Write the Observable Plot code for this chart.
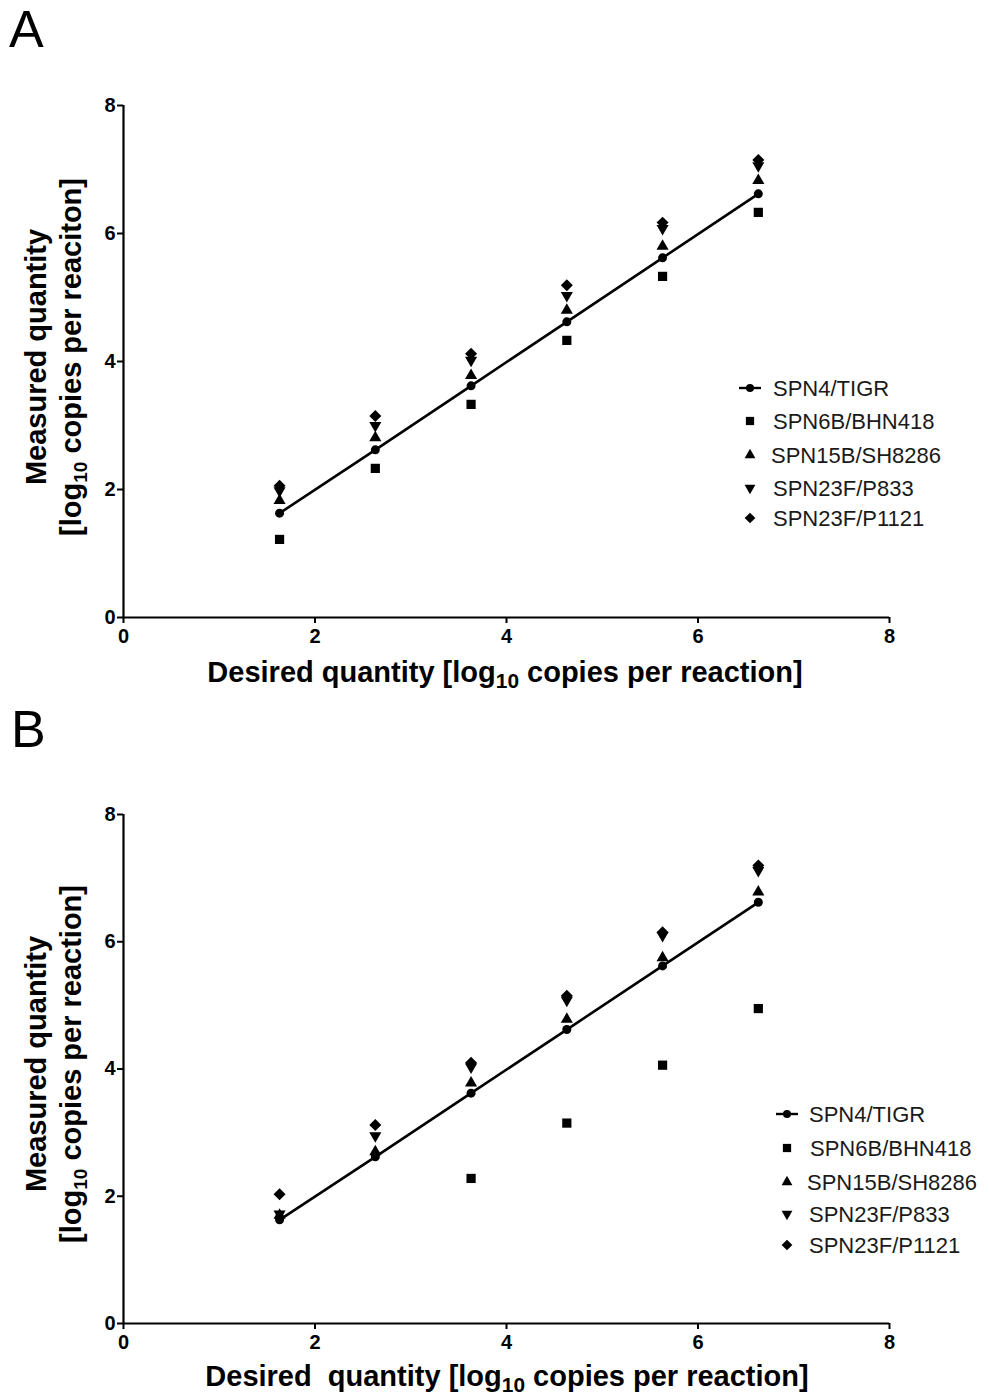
<!DOCTYPE html>
<html><head><meta charset="utf-8">
<script src="https://cdn.jsdelivr.net/npm/d3@7"></script>
<script src="https://cdn.jsdelivr.net/npm/@observablehq/plot@0.6"></script>
<style>
body{margin:0;background:#fff;}
#wrap{position:relative;width:989px;height:1398px;overflow:hidden;font-family:"Liberation Sans",Arial,sans-serif;}
.plab{position:absolute;font-size:52px;line-height:1;color:#000;z-index:5;}
.panel{position:absolute;left:0;}
</style></head>
<body><div id="wrap">
<div class="panel" id="pa" style="top:0px"></div>
<div class="panel" id="pb" style="top:700px"></div>
<div class="plab" style="left:9px;top:3px">A</div>
<div class="plab" style="left:11px;top:703px">B</div>
</div>
<script>
// ---- data ----
const desired = [1.63, 2.63, 3.63, 4.63, 5.63, 6.63];
const seriesNames = ["SPN4/TIGR", "SPN6B/BHN418", "SPN15B/SH8286", "SPN23F/P833", "SPN23F/P1121"];
const axisTicks = [0, 2, 4, 6, 8];

// Panel A measured values
const a_SPN4   = [1.63, 2.62, 3.62, 4.62, 5.62, 6.62];
const a_SPN6B  = [1.22, 2.33, 3.33, 4.33, 5.33, 6.33];
const a_SPN15B = [1.83, 2.81, 3.78, 4.80, 5.80, 6.83];
const a_P833   = [1.98, 3.00, 4.02, 5.03, 6.08, 7.06];
const a_P1121  = [2.06, 3.15, 4.12, 5.19, 6.17, 7.15];

// Panel B measured values (SPN6B not shown at lowest two levels)
const b_SPN4   = [1.63, 2.62, 3.62, 4.62, 5.62, 6.62];
const b_SPN6B  = [null, null, 2.28, 3.15, 4.06, 4.95];
const b_SPN15B = [1.70, 2.70, 3.78, 4.78, 5.75, 6.78];
const b_P833   = [1.72, 2.95, 4.03, 5.08, 6.10, 7.12];
const b_P1121  = [2.03, 3.12, 4.10, 5.15, 6.15, 7.20];

// ---- symbols ----
const triDown = {draw(ctx, size){
  const y = -Math.sqrt(size / (Math.sqrt(3) * 3));
  ctx.moveTo(0, -y * 2); ctx.lineTo(-Math.sqrt(3) * y, y); ctx.lineTo(Math.sqrt(3) * y, y); ctx.closePath();
}};
const symbols = ["circle", "square", "triangle", triDown, "diamond2"];
const symObjs = [d3.symbolCircle, d3.symbolSquare, d3.symbolTriangle, triDown, d3.symbolDiamond2];
const radii = [4.5, 5.2, 4.5, 4.5, 5.4];

const FONT = '"Liberation Sans", Arial, sans-serif';

function makePanel(el, cfg){
  const rows = cfg.series.map((vals, si) => desired.map((x, i) => ({x, y: vals[i], s: si})).filter(d => d.y != null));
  const W = 989, H = cfg.height;
  const chart = Plot.plot({
    width: W, height: H,
    marginLeft: 123, marginRight: 100, marginTop: cfg.mt, marginBottom: cfg.mb,
    style: {fontFamily: FONT, fontSize: "20px", fontWeight: "bold", color: "#000", background: "#fff"},
    x: {domain: [0, 8]},
    y: {domain: [0, 8]},
    marks: [
      Plot.axisX({ticks: axisTicks, tickSize: 6, tickPadding: 5, strokeWidth: 2, fontSize: 20, label: null}),
      Plot.axisY({ticks: axisTicks, tickSize: 6, tickPadding: 2, strokeWidth: 2, fontSize: 20, label: null}),
      Plot.ruleX([0], {strokeWidth: 2.2}),
      Plot.ruleY([0], {strokeWidth: 2.2}),
      Plot.line(rows[0], {x: "x", y: "y", strokeWidth: 2.6, stroke: "#000"}),
      ...rows.map((r, si) => Plot.dot(r, {x: "x", y: "y", symbol: symbols[si], r: radii[si], fill: "#000", stroke: "none"}))
    ]
  });
  const svg = d3.select(chart);
  svg.selectAll('g[aria-label$="tick label"]').attr("font-size", 20).attr("font-weight", "bold");
  svg.selectAll('g[aria-label$="tick label"] text').attr("font-size", 20);
  // x axis label
  const xl = svg.append("text").attr("x", cfg.xlx).attr("y", cfg.xly).attr("text-anchor", "middle")
    .attr("font-family", FONT).attr("font-weight", "bold").attr("font-size", cfg.xfs).attr("fill", "#000");
  xl.append("tspan").text(cfg.xlabel1);
  xl.append("tspan").attr("font-size", cfg.xfs * 0.72).attr("dy", 6).text("10");
  xl.append("tspan").attr("dy", -6).text(cfg.xlabel2);
  // y axis label (two lines, rotated)
  const cy = cfg.ylcy;
  svg.append("text").attr("transform", `translate(${cfg.yl1x},${cy}) rotate(-90)`).attr("text-anchor", "middle")
    .attr("font-family", FONT).attr("font-weight", "bold").attr("font-size", 29).attr("fill", "#000").text("Measured quantity");
  const y2 = svg.append("text").attr("transform", `translate(${cfg.yl2x},${cy}) rotate(-90)`).attr("text-anchor", "middle")
    .attr("font-family", FONT).attr("font-weight", "bold").attr("font-size", 29).attr("fill", "#000");
  y2.append("tspan").text("[log");
  y2.append("tspan").attr("font-size", 19).attr("dy", 6).text("10");
  y2.append("tspan").attr("dy", -6).text(cfg.ylabel2);
  // legend
  const lg = svg.append("g").attr("font-family", FONT).attr("font-size", 22).attr("font-weight", "normal")
    .attr("text-anchor", "start").attr("fill", "#1a1a1a");
  seriesNames.forEach((name, i) => {
    const yy = cfg.legY[i];
    if (i === 0) {
      lg.append("line").attr("x1", cfg.legSX - 11).attr("x2", cfg.legSX + 11).attr("y1", yy).attr("y2", yy).attr("stroke", "#000").attr("stroke-width", 2.4);
    }
    lg.append("path").attr("transform", `translate(${cfg.legSX},${yy})`)
      .attr("d", d3.symbol(symObjs[i], Math.PI * radii[i] * radii[i] * 0.8)()).attr("fill", "#000");
    lg.append("text").attr("x", cfg.legTX[i]).attr("y", yy).attr("dy", "0.36em").text(name);
  });
  el.appendChild(chart);
}

makePanel(document.getElementById("pa"), {
  height: 700, mt: 105, mb: 83,
  series: [a_SPN4, a_SPN6B, a_SPN15B, a_P833, a_P1121],
  xlabel1: "Desired quantity [log", xlabel2: " copies per reaction]", xlx: 505, xly: 682, xfs: 29,
  ylabel2: " copies per reaciton]", ylcy: 357, yl1x: 46, yl2x: 81,
  legSX: 750, legTX: [773, 773, 771, 773, 773], legY: [388, 421, 455, 488, 518]
});
makePanel(document.getElementById("pb"), {
  height: 698, mt: 114, mb: 75,
  series: [b_SPN4, b_SPN6B, b_SPN15B, b_P833, b_P1121],
  xlabel1: "Desired  quantity [log", xlabel2: " copies per reaction]", xlx: 507, xly: 686, xfs: 29,
  ylabel2: " copies per reaction]", ylcy: 364, yl1x: 46, yl2x: 81,
  legSX: 787, legTX: [809, 810, 807, 809, 809], legY: [414, 448, 482, 514, 545]
});
</script>
</body></html>
